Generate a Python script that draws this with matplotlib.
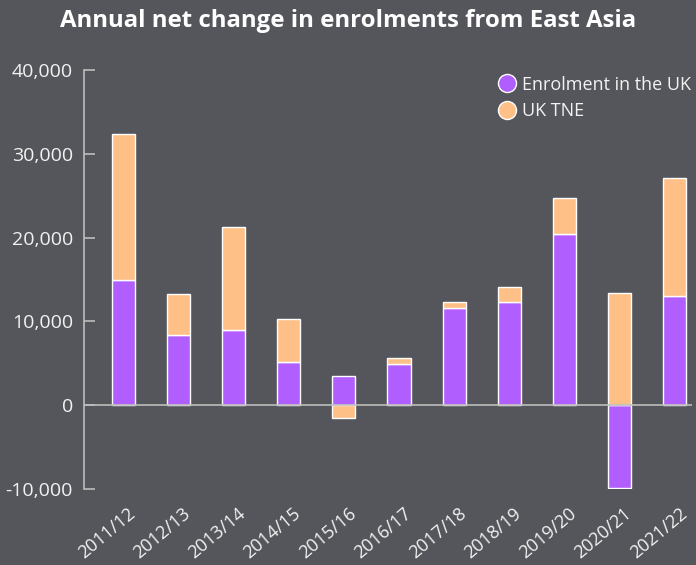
import matplotlib
matplotlib.use("Agg")
import matplotlib.pyplot as plt
import matplotlib.transforms as mtransforms
from matplotlib.lines import Line2D
import numpy as np

# ── Data ─────────────────────────────────────────────────────────────────── #
years = ["2011/12", "2012/13", "2013/14", "2014/15", "2015/16", "2016/17",
         "2017/18", "2018/19", "2019/20", "2020/21", "2021/22"]
uk_enrol = [14900, 8330, 8970, 5210, 3440, 4920, 11640, 12290, 20450, -9840, 13050]
uk_tne   = [17450, 4960, 12330, 5110, -1500, 720, 720, 1840, 4320, 13410, 14080]
yticks   = [-10000, 0, 10000, 20000, 30000, 40000]

# ── Style ────────────────────────────────────────────────────────────────── #
BG     = "#55565b"
PURPLE = "#b15efe"
ORANGE = "#ffc088"
TEXT   = "#f2f2f2"
AXIS   = "#bdbdbd"

plt.rcParams.update({
    "font.family": ["Open Sans", "DejaVu Sans"],
    "text.color":  TEXT,
})

fig = plt.figure(figsize=(6.96, 5.65), dpi=100, facecolor=BG)
ax = fig.add_axes([84 / 696, (565 - 489) / 565, (692 - 84) / 696, (489 - 70) / 565])
ax.set_facecolor(BG)

x = np.arange(len(years))
uk = np.array(uk_enrol)
tne = np.array(uk_tne)

# stack positives on positives, negatives on negatives
tne_bottom = np.where(tne >= 0, np.clip(uk, 0, None), np.clip(uk, None, 0))

width = 0.42
ax.bar(x, uk, width, color=PURPLE, edgecolor="white", linewidth=1, zorder=2)
ax.bar(x, tne, width, bottom=tne_bottom, color=ORANGE, edgecolor="white",
       linewidth=1, zorder=2)
ax.axhline(0, color=AXIS, linewidth=1.2, zorder=3)

ax.set_xlim(-0.71, 10.31)
ax.set_ylim(-10000, 40000)

for s in ["top", "right", "bottom"]:
    ax.spines[s].set_visible(False)
ax.spines["left"].set_color(AXIS)
ax.spines["left"].set_linewidth(1.2)

ax.set_yticks(yticks)
ax.set_yticklabels([f"{v:,}" for v in yticks])
ax.tick_params(axis="y", direction="in", length=8, width=1.2, color=AXIS,
               labelcolor=TEXT, labelsize=14, pad=8)

ax.set_xticks(x)
ax.set_xticklabels(years, rotation=40, ha="right", va="top",
                   rotation_mode="anchor")
ax.tick_params(axis="x", length=0, labelcolor=TEXT, labelsize=13, pad=11)
shift = mtransforms.ScaledTranslation(4 / 100, 0, fig.dpi_scale_trans)
for lbl in ax.get_xticklabels():
    lbl.set_transform(lbl.get_transform() + shift)

fig.text(0.5, 0.962, "Annual net change in enrolments from East Asia",
         ha="center", va="center", fontsize=17.3, fontweight="bold", color="white")

handles = [
    Line2D([], [], marker="o", linestyle="none", markersize=13,
           markerfacecolor=PURPLE, markeredgecolor="white", markeredgewidth=1),
    Line2D([], [], marker="o", linestyle="none", markersize=13,
           markerfacecolor=ORANGE, markeredgecolor="white", markeredgewidth=1),
]
leg = ax.legend(handles, ["Enrolment in the UK", "UK TNE"], loc="upper right",
                bbox_to_anchor=(1.025, 1.025), frameon=False, fontsize=13,
                handletextpad=0.25, labelspacing=0.45, handlelength=1.2)
for t in leg.get_texts():
    t.set_color(TEXT)

fig.savefig("out.png", dpi=100, facecolor=BG)
